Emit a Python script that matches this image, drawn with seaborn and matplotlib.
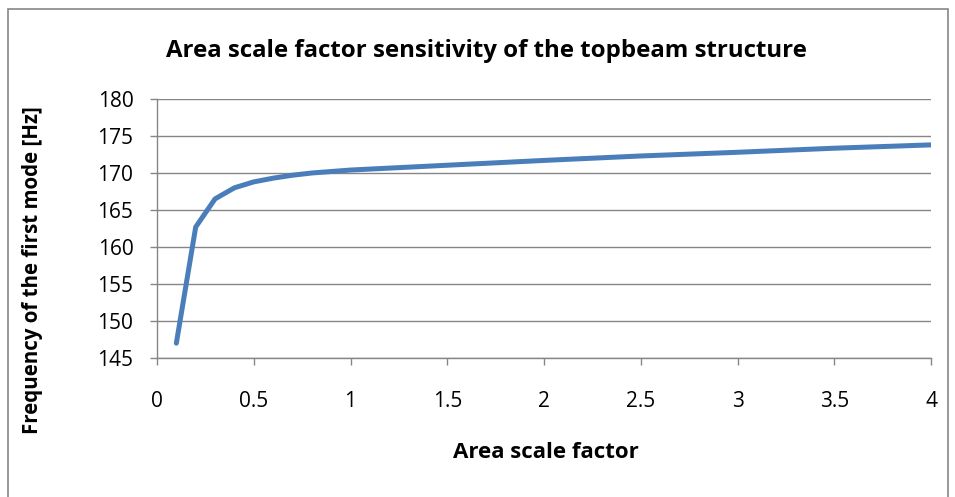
import matplotlib
matplotlib.use("Agg")
import matplotlib.pyplot as plt
import seaborn as sns
import pandas as pd
from matplotlib.patches import Rectangle

area_scale = [0.1, 0.2, 0.3, 0.4, 0.5, 0.6, 0.7, 0.8, 0.9, 1.0, 1.5, 2.0, 2.5, 3.0, 3.5, 4.0]
frequency = [147.0, 162.7, 166.5, 168.0, 168.8, 169.3, 169.7, 170.0, 170.2, 170.4,
             171.05, 171.7, 172.3, 172.8, 173.35, 173.8]
x_ticks = [0, 0.5, 1, 1.5, 2, 2.5, 3, 3.5, 4]
x_tick_labels = ["0", "0.5", "1", "1.5", "2", "2.5", "3", "3.5", "4"]
y_ticks = [145, 150, 155, 160, 165, 170, 175, 180]

title = "Area scale factor sensitivity of the topbeam structure"
xlabel = "Area scale factor"
ylabel = "Frequency of the first mode [Hz]"

sns.set_theme(style="white")
plt.rcParams["font.family"] = ["Open Sans", "DejaVu Sans"]
plt.rcParams["text.color"] = "black"

df = pd.DataFrame({"x": area_scale, "y": frequency})

W, H = 955, 497
fig = plt.figure(figsize=(W / 100, H / 100), dpi=100)
ax = fig.add_axes([157 / W, 1 - 358 / H, (931 - 157) / W, (358 - 99) / H])

sns.lineplot(data=df, x="x", y="y", ax=ax, color="#4A7EBB", linewidth=3.6,
             solid_capstyle="round", solid_joinstyle="round", zorder=3)

ax.set_xlim(0, 4)
ax.set_ylim(145, 180)
ax.set_xticks(x_ticks)
ax.set_xticklabels(x_tick_labels)
ax.set_yticks(y_ticks)

grid_c = "#868686"
ax.grid(axis="y", color=grid_c, linewidth=1.0)
ax.grid(axis="x", visible=False)
for s in ["top", "right"]:
    ax.spines[s].set_visible(False)
for s in ["left", "bottom"]:
    ax.spines[s].set_color(grid_c)
    ax.spines[s].set_linewidth(1.0)
ax.tick_params(axis="both", which="major", direction="out", length=5, width=1.0,
               color=grid_c, labelsize=15, labelcolor="black")
ax.tick_params(axis="y", pad=12)
ax.tick_params(axis="x", pad=19)
ax.tick_params(bottom=True, left=True)

ax.set_xlabel("")
ax.set_ylabel("")
fig.text(546 / W, 1 - 453 / H, xlabel, ha="center", va="center",
         fontsize=16, fontweight="bold", color="black")
fig.text(33 / W, 1 - 270 / H, ylabel, ha="center", va="center",
         rotation=90, fontsize=14.8, fontweight="bold", color="black")
fig.text(486 / W, 1 - 51 / H, title, ha="center", va="center",
         fontsize=17.3, fontweight="bold", color="black")

border = Rectangle((8 / W, -0.05), (948 - 8) / W, 1.05 - 8.5 / H,
                   transform=fig.transFigure, fill=False,
                   edgecolor="#868686", linewidth=1.2)
fig.patches.append(border)

fig.savefig("out.png", dpi=100)
